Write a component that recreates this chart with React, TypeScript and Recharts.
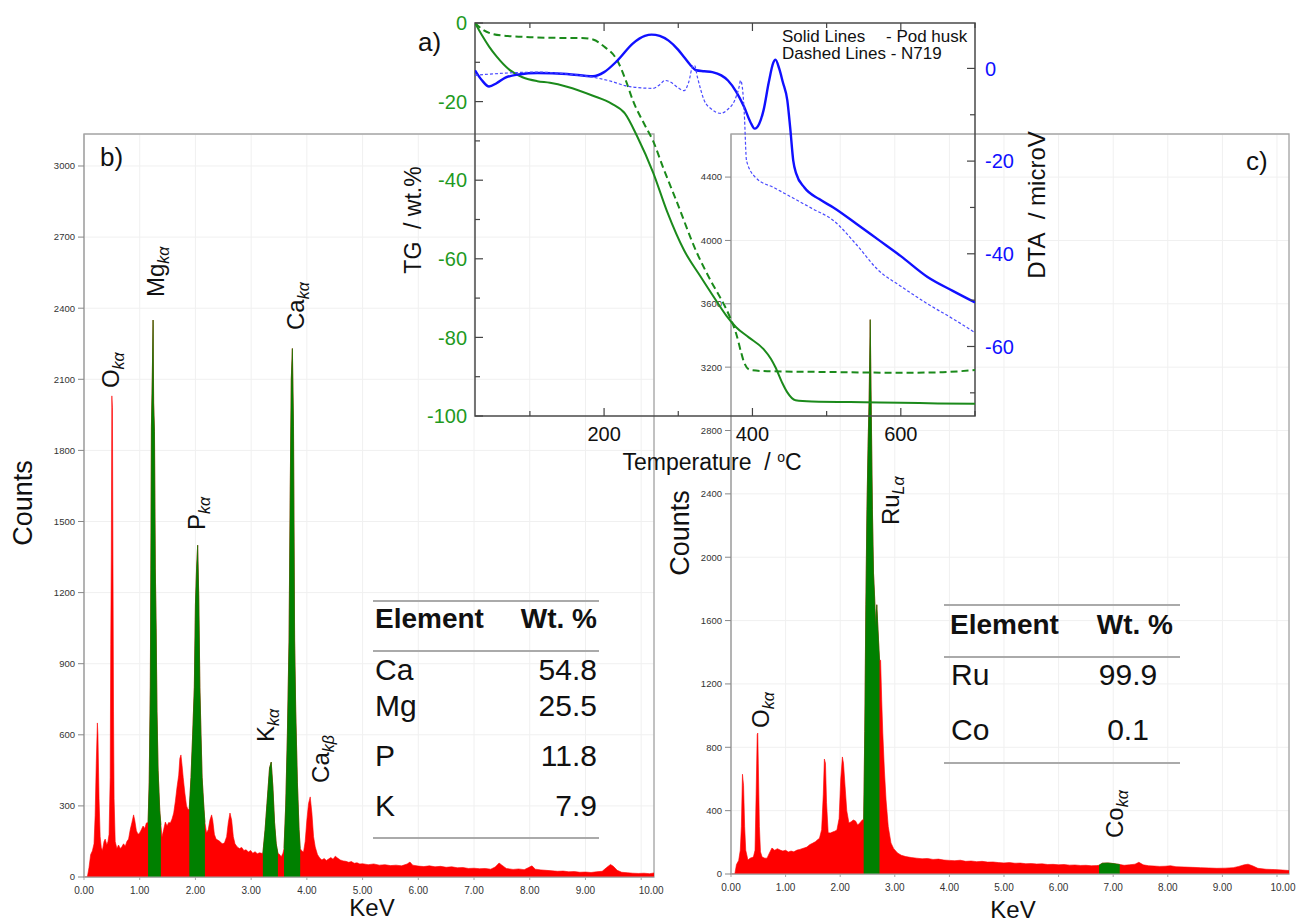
import React from 'react'
import {
  Area,
  CartesianGrid,
  ComposedChart,
  Line,
  LineChart,
  ReferenceArea,
  Scatter,
  XAxis,
  YAxis,
} from 'recharts'

const W = 1297
const H = 922
const SANS = '"Liberation Sans", Arial, sans-serif'
const NARROW = '"Liberation Sans Narrow", "Liberation Sans", Arial, sans-serif'

const RED = '#ff0000'
const GREEN = '#008000'
const TG_GREEN = '#1b8a1b'
const TG_TEXT = '#1f9a1f'
const BLUE = '#1010ff'
const BLUE_LIGHT = '#4a4aff'

// ---- b) EDX spectrum of the pod husk ------------------------------------
const KEV_TICKS = [0, 1, 2, 3, 4, 5, 6, 7, 8, 9, 10]
const B_COUNT_TICKS = [0, 300, 600, 900, 1200, 1500, 1800, 2100, 2400, 2700, 3000]
const B_SPECTRUM: [number, number][] = [
  [0, 0], [0.06, 0], [0.09, 40], [0.12, 95], [0.15, 110], [0.18, 140], [0.2, 260], [0.22, 480],
  [0.24, 650], [0.25, 600], [0.27, 330], [0.29, 170], [0.31, 125], [0.33, 112], [0.36, 150],
  [0.38, 160], [0.41, 135], [0.43, 150], [0.45, 180], [0.47, 420], [0.48, 980], [0.49, 1360],
  [0.5, 2030], [0.51, 1980], [0.52, 1320], [0.53, 700], [0.54, 330], [0.56, 150], [0.59, 120],
  [0.62, 135], [0.65, 120], [0.68, 128], [0.71, 140], [0.74, 130], [0.77, 150], [0.8, 160],
  [0.83, 200], [0.86, 230], [0.89, 262], [0.91, 240], [0.94, 195], [0.97, 180], [1.0, 186],
  [1.03, 200], [1.06, 215], [1.09, 205], [1.12, 228],
  [1.15, 230], [1.17, 400], [1.19, 800], [1.2, 1300], [1.21, 1900], [1.225, 2100], [1.24, 2350],
  [1.25, 2000], [1.265, 1880], [1.28, 1300], [1.295, 1050], [1.31, 700], [1.33, 450], [1.36, 280],
  [1.38, 220],
  [1.4, 169], [1.43, 200], [1.46, 232], [1.49, 215], [1.52, 230], [1.55, 228], [1.58, 245],
  [1.61, 270], [1.64, 320], [1.67, 380], [1.7, 430], [1.72, 500], [1.74, 515], [1.76, 470],
  [1.78, 420], [1.81, 354], [1.84, 300], [1.87, 283],
  [1.89, 290], [1.92, 420], [1.95, 600], [1.98, 800], [2.0, 1150], [2.02, 1300], [2.04, 1400],
  [2.06, 1180], [2.08, 800], [2.1, 600], [2.12, 420], [2.15, 300], [2.17, 230],
  [2.2, 186], [2.23, 200], [2.26, 240], [2.29, 262], [2.31, 240], [2.34, 180], [2.37, 160],
  [2.4, 156], [2.44, 150], [2.48, 140], [2.52, 143], [2.56, 170], [2.59, 230], [2.62, 270],
  [2.65, 240], [2.68, 170], [2.71, 140], [2.75, 127], [2.79, 120], [2.83, 125], [2.87, 112],
  [2.91, 115], [2.95, 105], [2.99, 112], [3.03, 100], [3.07, 107], [3.11, 98], [3.15, 102],
  [3.19, 100],
  [3.21, 100], [3.25, 200], [3.29, 330], [3.33, 460], [3.36, 485], [3.39, 380], [3.42, 230],
  [3.45, 140], [3.48, 100],
  [3.51, 95], [3.54, 85], [3.57, 100],
  [3.59, 120], [3.62, 300], [3.65, 600], [3.68, 1000], [3.7, 1600], [3.72, 2100], [3.74, 2230],
  [3.76, 1900], [3.78, 1000], [3.8, 700], [3.83, 400], [3.86, 200], [3.88, 120],
  [3.91, 110], [3.94, 105], [3.97, 150], [4.0, 240], [4.03, 310], [4.06, 338], [4.09, 270],
  [4.12, 170], [4.15, 127], [4.19, 95], [4.23, 80], [4.27, 72], [4.31, 78], [4.35, 70],
  [4.39, 76], [4.43, 82], [4.47, 75], [4.51, 88], [4.55, 80], [4.6, 72], [4.65, 68], [4.7, 66],
  [4.75, 62], [4.8, 65], [4.85, 58], [4.9, 60], [4.95, 55], [5.0, 56], [5.1, 52], [5.2, 55],
  [5.3, 50], [5.4, 52], [5.5, 48], [5.6, 50], [5.7, 47], [5.8, 55], [5.85, 63], [5.9, 50],
  [6.0, 46], [6.1, 44], [6.2, 47], [6.3, 43], [6.4, 45], [6.5, 41], [6.6, 43], [6.7, 39],
  [6.8, 40], [6.9, 36], [7.0, 37], [7.1, 35], [7.2, 36], [7.3, 33], [7.38, 42], [7.45, 59],
  [7.5, 50], [7.58, 36], [7.7, 32], [7.8, 34], [7.9, 31], [7.98, 40], [8.04, 47], [8.1, 33],
  [8.2, 30], [8.3, 28], [8.4, 26], [8.5, 24], [8.6, 25], [8.7, 22], [8.8, 23], [8.9, 20],
  [9.0, 21], [9.1, 19], [9.2, 22], [9.3, 24], [9.38, 40], [9.45, 53], [9.5, 45], [9.57, 28],
  [9.65, 20], [9.75, 18], [9.85, 16], [9.95, 15], [10.05, 16], [10.15, 14], [10.23, 17],
]
const B_PEAK_RANGES: [number, number][] = [[1.15, 1.38], [1.89, 2.17], [3.21, 3.48], [3.59, 3.88]]
const B_LABELS = [
  { kev: 0.32, counts: 2063, name: 'O', sub: 'kα' },
  { kev: 1.13, counts: 2447, name: 'Mg', sub: 'kα' },
  { kev: 1.87, counts: 1464, name: 'P', sub: 'kα' },
  { kev: 3.11, counts: 570, name: 'K', sub: 'kα' },
  { kev: 3.64, counts: 2308, name: 'Ca', sub: 'kα' },
  { kev: 4.09, counts: 397, name: 'Ca', sub: 'kβ' },
]
const B_TABLE = [
  { el: 'Ca', wt: '54.8', y: 670 },
  { el: 'Mg', wt: '25.5', y: 706 },
  { el: 'P', wt: '11.8', y: 756 },
  { el: 'K', wt: '7.9', y: 806 },
]

// ---- c) EDX spectrum of N719 ------------------------------------------------
const C_COUNT_TICKS = [0, 400, 800, 1200, 1600, 2000, 2400, 2800, 3200, 3600, 4000, 4400]
const C_SPECTRUM: [number, number][] = [
  [0, 0], [0.07, 0], [0.1, 60], [0.14, 85], [0.17, 150], [0.19, 300], [0.21, 630], [0.23, 560],
  [0.25, 300], [0.27, 150], [0.31, 88], [0.35, 100], [0.41, 107], [0.44, 150], [0.46, 500],
  [0.48, 880], [0.49, 890], [0.5, 700], [0.52, 300], [0.54, 140], [0.57, 107], [0.62, 100],
  [0.66, 100], [0.7, 130], [0.75, 164], [0.8, 150], [0.85, 160], [0.9, 151], [0.95, 145],
  [1.0, 150], [1.05, 139], [1.1, 145], [1.15, 140], [1.21, 151], [1.26, 155], [1.3, 160],
  [1.35, 165], [1.39, 170], [1.44, 185], [1.5, 195], [1.55, 205], [1.58, 215], [1.62, 225],
  [1.66, 280], [1.69, 500], [1.71, 726], [1.73, 700], [1.75, 450], [1.78, 260], [1.82, 259],
  [1.86, 265], [1.9, 270], [1.94, 278], [1.98, 350], [2.01, 600], [2.04, 739], [2.06, 700],
  [2.09, 550], [2.12, 400], [2.16, 322], [2.2, 330], [2.24, 341], [2.28, 335], [2.32, 310],
  [2.36, 322], [2.4, 340],
  [2.43, 345], [2.45, 900], [2.47, 1700], [2.49, 2300], [2.51, 2700], [2.53, 3000], [2.55, 3500],
  [2.57, 2900], [2.59, 2300], [2.61, 1900], [2.63, 1750], [2.65, 1560], [2.67, 1700],
  [2.69, 1560], [2.72, 1350],
  [2.74, 1350], [2.76, 1100], [2.78, 890], [2.81, 650], [2.84, 467], [2.88, 300], [2.93, 196],
  [2.98, 160], [3.05, 133], [3.12, 118], [3.2, 110], [3.3, 104], [3.4, 100], [3.5, 96],
  [3.6, 98], [3.7, 92], [3.8, 94], [3.9, 88], [4.0, 86], [4.1, 84], [4.2, 87], [4.3, 80],
  [4.4, 82], [4.5, 78], [4.6, 80], [4.7, 75], [4.8, 76], [4.9, 72], [5.0, 70], [5.1, 72],
  [5.2, 68], [5.3, 69], [5.4, 65], [5.5, 66], [5.6, 63], [5.7, 64], [5.8, 60], [5.9, 61],
  [6.0, 58], [6.1, 60], [6.2, 56], [6.3, 57], [6.4, 54], [6.5, 55], [6.6, 52], [6.7, 53],
  [6.74, 55], [6.8, 68], [6.9, 70], [7.0, 66], [7.12, 60],
  [7.2, 55], [7.3, 58], [7.4, 62], [7.47, 74], [7.55, 58], [7.65, 52], [7.75, 50], [7.85, 48],
  [7.95, 49], [8.05, 52], [8.15, 46], [8.3, 44], [8.45, 42], [8.6, 40], [8.75, 38], [8.9, 36],
  [9.05, 37], [9.2, 40], [9.3, 48], [9.4, 58], [9.47, 62], [9.55, 52], [9.65, 36], [9.8, 30],
  [9.95, 28], [10.1, 25], [10.22, 22],
]
const C_PEAK_RANGES: [number, number][] = [[2.43, 2.72], [6.74, 7.12]]
const C_LABELS = [
  { kev: 0.385, counts: 922, name: 'O', sub: 'kα' },
  { kev: 2.77, counts: 2203, name: 'Ru', sub: 'Lα' },
  { kev: 6.86, counts: 227, name: 'Co', sub: 'kα' },
]
const C_TABLE = [
  { el: 'Ru', wt: '99.9', y: 675 },
  { el: 'Co', wt: '0.1', y: 730 },
]

// ---- a) TG / DTA inset -------------------------------------------------------
const T_TICKS = [100, 200, 300, 400, 500, 600, 700]
const TG_TICKS = [0, -10, -20, -30, -40, -50, -60, -70, -80, -90, -100]
const DTA_TICKS = [0, -10, -20, -30, -40, -50, -60, -70]
const TG_POD: [number, number][] = [
  [26, 0], [35, -3], [45, -6], [55, -8.5], [73, -12], [90, -13.8], [110, -14.8], [127, -15.2],
  [150, -16.2], [185, -18.5], [210, -20.5], [228, -23], [245, -29], [266, -38], [285, -48],
  [308, -57.9], [330, -64.5], [351, -70.6], [365, -74.5], [378, -77.4], [395, -80], [415, -83],
  [425, -85.5], [431, -87.6], [440, -91.5], [447, -94], [458, -96], [480, -96.3], [550, -96.5],
  [600, -96.6], [650, -96.8], [700, -96.9],
]
const TG_N719: [number, number][] = [
  [26, 0], [35, -1.5], [50, -2.8], [70, -3.3], [100, -3.6], [150, -3.8], [170, -3.8], [185, -4.2],
  [200, -6], [218, -9.6], [230, -15], [239, -19.8], [255, -26], [266, -30], [280, -37], [297, -45],
  [324, -58], [345, -66], [357, -70], [370, -75], [378, -79], [385, -84], [389, -86.5],
  [397, -88.3], [420, -88.6], [500, -88.8], [600, -89], [650, -88.9], [700, -88.3],
]
const DTA_POD: [number, number][] = [
  [26, -0.4], [35, -2.5], [45, -3.9], [55, -3.2], [67, -2], [85, -1.3], [110, -1], [150, -1.2],
  [185, -1.7], [200, -0.8], [218, 1.7], [239, 5.4], [255, 7], [264, 7.3], [275, 7], [287, 6],
  [300, 4], [308, 2.4], [316, 0.8], [324, -0.4], [335, -0.6], [346, -0.8], [358, -1.5],
  [367, -2.6], [378, -5], [389, -8.4], [397, -11.5], [403, -13], [409, -12], [415, -9],
  [422, -3], [428, 1.2], [431, 1.9], [436, 0], [441, -3], [447, -6.9], [451, -13], [455, -19.9],
  [459, -22.7], [470, -25.7], [490, -28.2], [509, -30], [540, -33.5], [570, -37], [600, -40.5],
  [636, -45], [670, -48], [700, -50.5],
]
const DTA_N719: [number, number][] = [
  [26, -1.5], [40, -1.3], [58, -1.1], [110, -0.8], [150, -1.2], [185, -1.9], [210, -2.8],
  [228, -3.7], [250, -4.2], [266, -4.3], [275, -3.5], [282, -2.6], [290, -3], [300, -4.2],
  [308, -4.8], [314, -3], [320, 0.6], [322, 0.6], [326, -2], [335, -6.9], [345, -8.8],
  [357, -9.7], [367, -8.8], [376, -6.9], [382, -4], [384, -2.6], [387, -5], [389, -9.7],
  [392, -19.9], [404, -23.5], [430, -25.8], [454, -27.9], [480, -30.2], [509, -32.8],
  [540, -38], [570, -43.6], [600, -47], [636, -50.8], [670, -54], [700, -57],
]

const toRows = (pts: [number, number][]) => pts.map(([t, v]) => ({ t, v }))

function PeakLabel(props: any) {
  const { cx, cy, payload } = props
  if (cx == null || cy == null) return null
  return (
    <g transform={`translate(${cx},${cy}) rotate(-90)`}>
      <text x={0} y={17} fontSize={24} fontFamily={SANS} fill="#111">
        {payload.name}
        <tspan fontSize={16} fontStyle="italic" dy={5}>{payload.sub}</tspan>
      </text>
    </g>
  )
}

function kevTick(lastShift: number) {
  return (props: any) => {
    const { x, y, payload } = props
    return (
      <text
        x={x + (payload.value === 10 ? lastShift : 0)}
        y={y}
        dy="0.71em"
        textAnchor="middle"
        fontSize={10}
        fontFamily={NARROW}
        fill="#333"
      >
        {payload.value.toFixed(2)}
      </text>
    )
  }
}

type EdxProps = {
  spectrum: [number, number][]
  ranges: [number, number][]
  labels: { kev: number; counts: number; name: string; sub: string }[]
  xMax: number
  yMax: number
  yTicks: number[]
  margin: { top: number; right: number; bottom: number; left: number }
  lastShift: number
}

function EdxPanel({ spectrum, ranges, labels, xMax, yMax, yTicks, margin, lastShift }: EdxProps) {
  const data = spectrum.map(([kev, counts]) => ({
    kev,
    counts,
    peak: ranges.some(([a, b]) => kev >= a && kev <= b) ? counts : null,
  }))
  return (
    <ComposedChart width={W} height={H} data={data} margin={margin}>
      <CartesianGrid stroke="#f0f0f0" />
      <ReferenceArea x1={0} x2={xMax} y1={0} y2={yMax} fill="none" stroke="#a5a5a5" strokeWidth={1.3} />
      <XAxis
        type="number"
        dataKey="kev"
        domain={[0, xMax]}
        ticks={KEV_TICKS}
        allowDataOverflow
        height={30}
        tickSize={3}
        tickMargin={7}
        axisLine={{ stroke: '#a5a5a5' }}
        tickLine={{ stroke: '#a5a5a5' }}
        tick={kevTick(lastShift)}
      />
      <YAxis
        type="number"
        domain={[0, yMax]}
        ticks={yTicks}
        allowDataOverflow
        width={40}
        tickSize={6}
        tickMargin={3}
        axisLine={{ stroke: '#a5a5a5' }}
        tickLine={{ stroke: '#888' }}
        tick={{ fontSize: 9.5, fill: '#333', fontFamily: NARROW }}
      />
      <Area dataKey="counts" type="linear" fill={RED} fillOpacity={1} stroke={RED} strokeWidth={0.6} isAnimationActive={false} />
      <Area dataKey="peak" type="linear" fill={GREEN} fillOpacity={1} stroke={GREEN} strokeWidth={0.6} isAnimationActive={false} />
      <Scatter data={labels} dataKey="counts" shape={PeakLabel} isAnimationActive={false} />
    </ComposedChart>
  )
}

function TgTick(props: any) {
  const { x, y, payload } = props
  const major = payload.value % 20 === 0
  return (
    <g>
      <line x1={x + 8} x2={x + 8 + (major ? 8 : 5)} y1={y} y2={y} stroke="#444" strokeWidth={1.2} />
      {major && (
        <text x={x} y={y} dy="0.36em" textAnchor="end" fontSize={20} fontFamily={SANS} fill={TG_TEXT}>
          {payload.value}
        </text>
      )}
    </g>
  )
}

function DtaTick(props: any) {
  const { x, y, payload } = props
  const major = payload.value % 20 === 0
  return (
    <g>
      <line x1={x - 10} x2={x - 10 - (major ? 8 : 5)} y1={y} y2={y} stroke="#444" strokeWidth={1.2} />
      {major && (
        <text x={x} y={y} dy="0.36em" textAnchor="start" fontSize={20} fontFamily={SANS} fill={BLUE}>
          {payload.value}
        </text>
      )}
    </g>
  )
}

function TempTick(props: any) {
  const { x, y, payload } = props
  const major = payload.value % 200 === 0
  return (
    <g>
      <line x1={x} x2={x} y1={y - 8} y2={y - 8 - (major ? 8 : 5)} stroke="#444" strokeWidth={1.2} />
      {major && (
        <text x={x} y={y + 17} textAnchor="middle" fontSize={20} fontFamily={SANS} fill="#111">
          {payload.value}
        </text>
      )}
    </g>
  )
}

function TopTick(props: any) {
  const { x, y, payload } = props
  const major = payload.value % 200 === 0
  return <line x1={x} x2={x} y1={y} y2={y + (major ? 8 : 5)} stroke="#444" strokeWidth={1.2} />
}

function ThermalInset() {
  return (
    <LineChart width={W} height={H} margin={{ top: 22, right: 272, bottom: 476, left: 425 }}>
      <XAxis
        type="number"
        dataKey="t"
        domain={[26, 700]}
        ticks={T_TICKS}
        allowDataOverflow
        height={30}
        tickSize={0}
        tickMargin={8}
        axisLine={false}
        tickLine={false}
        tick={TempTick}
      />
      <XAxis
        xAxisId="top"
        orientation="top"
        type="number"
        dataKey="t"
        domain={[26, 700]}
        ticks={T_TICKS}
        allowDataOverflow
        height={1}
        tickSize={0}
        tickMargin={0}
        axisLine={false}
        tickLine={false}
        tick={TopTick}
      />
      <YAxis
        yAxisId="tg"
        type="number"
        domain={[-100, 0]}
        ticks={TG_TICKS}
        allowDataOverflow
        width={50}
        tickSize={0}
        tickMargin={8}
        axisLine={false}
        tickLine={false}
        tick={TgTick}
      />
      <YAxis
        yAxisId="dta"
        orientation="right"
        type="number"
        domain={[-75, 9.8]}
        ticks={DTA_TICKS}
        allowDataOverflow
        width={50}
        tickSize={0}
        tickMargin={10}
        axisLine={false}
        tickLine={false}
        tick={DtaTick}
      />
      <ReferenceArea yAxisId="tg" x1={26} x2={700} y1={-100} y2={0} fill="none" stroke="#4a4a4a" strokeWidth={1.5} />
      <Line yAxisId="tg" data={toRows(TG_POD)} dataKey="v" type="monotone" stroke={TG_GREEN} strokeWidth={2} dot={false} isAnimationActive={false} />
      <Line yAxisId="tg" data={toRows(TG_N719)} dataKey="v" type="monotone" stroke={TG_GREEN} strokeWidth={2} strokeDasharray="7 4" dot={false} isAnimationActive={false} />
      <Line yAxisId="dta" data={toRows(DTA_POD)} dataKey="v" type="monotone" stroke={BLUE} strokeWidth={2.4} dot={false} isAnimationActive={false} />
      <Line yAxisId="dta" data={toRows(DTA_N719)} dataKey="v" type="monotone" stroke={BLUE_LIGHT} strokeWidth={1.2} strokeDasharray="3 2" dot={false} isAnimationActive={false} />
    </LineChart>
  )
}

type TxtProps = {
  x: number
  y: number
  size: number
  children: React.ReactNode
  align?: 'left' | 'center' | 'right'
  rotate?: boolean
  bold?: boolean
  color?: string
  family?: string
}

function Txt({ x, y, size, children, align = 'left', rotate, bold, color = '#111', family = SANS }: TxtProps) {
  const tx = align === 'left' ? '0' : align === 'center' ? '-50%' : '-100%'
  return (
    <div
      style={{
        position: 'absolute',
        left: x,
        top: y,
        fontSize: size,
        fontFamily: family,
        fontWeight: bold ? 700 : 400,
        color,
        lineHeight: 1,
        whiteSpace: 'nowrap',
        transform: rotate ? 'translate(-50%,-50%) rotate(-90deg)' : `translate(${tx},-50%)`,
      }}
    >
      {children}
    </div>
  )
}

function Rule({ x1, x2, y }: { x1: number; x2: number; y: number }) {
  return <div style={{ position: 'absolute', left: x1, top: y, width: x2 - x1, height: 1.5, background: '#aaa' }} />
}

export default function App() {
  return (
    <div style={{ position: 'fixed', left: 0, top: 0, width: W, height: H, background: '#fff', overflow: 'hidden' }}>
      <div style={{ position: 'absolute', left: 0, top: 0 }}>
        <EdxPanel
          spectrum={B_SPECTRUM}
          ranges={B_PEAK_RANGES}
          labels={B_LABELS}
          xMax={10.23}
          yMax={3135}
          yTicks={B_COUNT_TICKS}
          margin={{ top: 134, right: 643, bottom: 15, left: 44 }}
          lastShift={10}
        />
      </div>
      <div style={{ position: 'absolute', left: 0, top: 0 }}>
        <EdxPanel
          spectrum={C_SPECTRUM}
          ranges={C_PEAK_RANGES}
          labels={C_LABELS}
          xMax={10.22}
          yMax={4672}
          yTicks={C_COUNT_TICKS}
          margin={{ top: 134, right: 8, bottom: 18, left: 691 }}
          lastShift={6}
        />
      </div>
      <div style={{ position: 'absolute', left: 0, top: 0 }}>
        <ThermalInset />
      </div>

      {/* panel b text */}
      <Txt x={100} y={157} size={26}>b)</Txt>
      <Txt x={23} y={503} size={27} rotate>Counts</Txt>
      <Txt x={372} y={908} size={24} align="center">KeV</Txt>
      <Rule x1={373} x2={599} y={600} />
      <Txt x={375} y={619} size={28} bold>Element</Txt>
      <Txt x={597} y={619} size={28} bold align="right">Wt. %</Txt>
      <Rule x1={373} x2={599} y={650} />
      {B_TABLE.map((r) => (
        <React.Fragment key={r.el}>
          <Txt x={375} y={r.y} size={30}>{r.el}</Txt>
          <Txt x={597} y={r.y} size={30} align="right">{r.wt}</Txt>
        </React.Fragment>
      ))}
      <Rule x1={373} x2={599} y={837} />

      {/* panel c text */}
      <Txt x={1246} y={161} size={26}>c)</Txt>
      <Txt x={680} y={533} size={27} rotate>Counts</Txt>
      <Txt x={1013} y={910} size={24} align="center">KeV</Txt>
      <Rule x1={944} x2={1180} y={604} />
      <Txt x={950} y={625} size={28} bold>Element</Txt>
      <Txt x={1173} y={625} size={28} bold align="right">Wt. %</Txt>
      <Rule x1={944} x2={1180} y={656} />
      {C_TABLE.map((r) => (
        <React.Fragment key={r.el}>
          <Txt x={951} y={r.y} size={30}>{r.el}</Txt>
          <Txt x={1128} y={r.y} size={30} align="center">{r.wt}</Txt>
        </React.Fragment>
      ))}
      <Rule x1={944} x2={1180} y={762} />

      {/* inset a text */}
      <Txt x={418} y={42} size={26}>a)</Txt>
      <Txt x={413} y={220} size={23} rotate>TG&nbsp; / wt.%</Txt>
      <Txt x={1037} y={205} size={24} rotate>DTA&nbsp; / microV</Txt>
      <Txt x={712} y={462} size={23} align="center">
        Temperature&nbsp; / <sup style={{ fontSize: 14 }}>o</sup>C
      </Txt>
      <Txt x={782} y={36} size={17}>Solid Lines</Txt>
      <Txt x={886} y={36} size={17}>- Pod husk</Txt>
      <Txt x={782} y={53} size={17}>Dashed Lines - N719</Txt>
    </div>
  )
}
